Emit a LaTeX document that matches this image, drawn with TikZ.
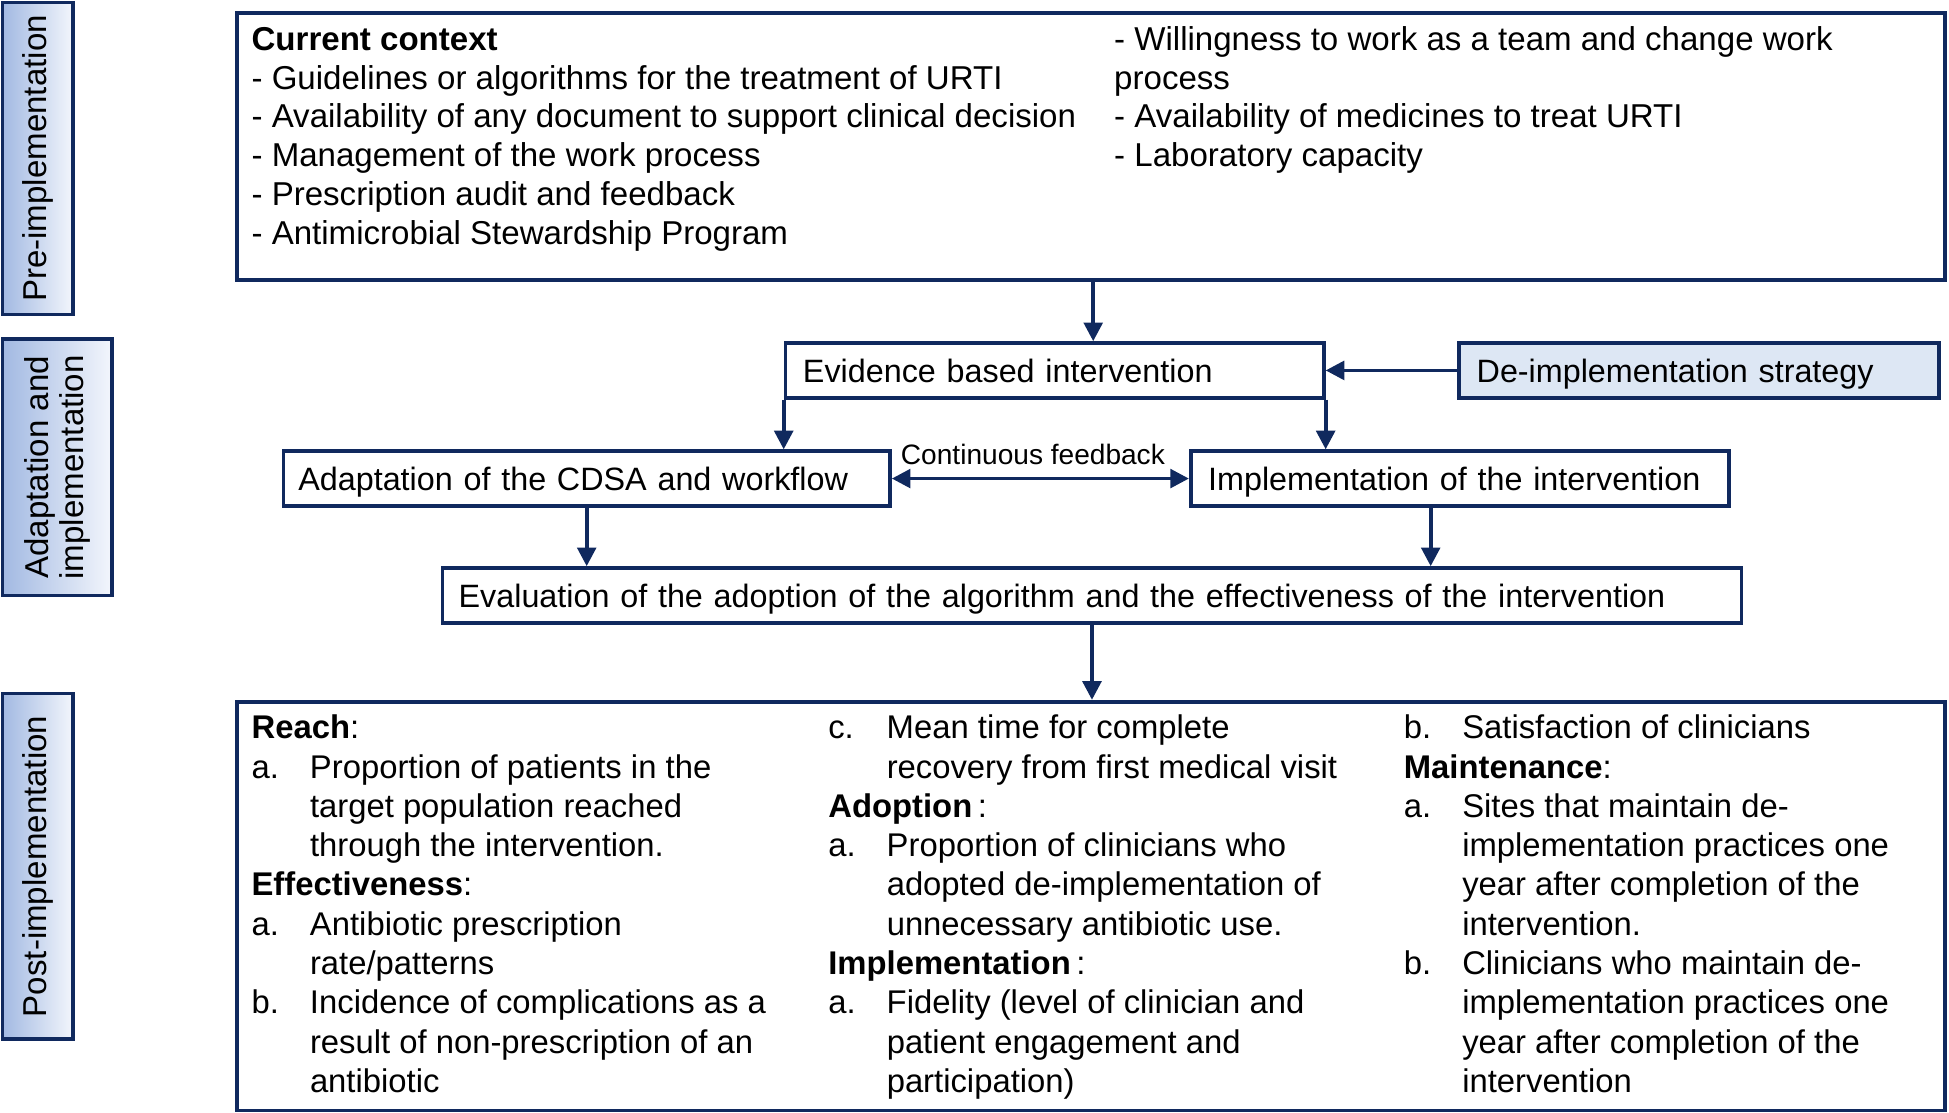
\documentclass[tikz,border=0pt]{standalone}
\usepackage{fontspec}
\setmainfont{Liberation Sans}
\usetikzlibrary{arrows.meta,calc}
\definecolor{navy}{RGB}{16,41,94}
\definecolor{lightfill}{RGB}{221,231,244}
\definecolor{gradtop}{RGB}{243,246,252}
\definecolor{gradbot}{RGB}{162,185,226}
\newcommand\itm[1]{\makebox[23.5pt][l]{#1}}
\begin{document}
\begin{tikzpicture}[x=0.5pt,y=-0.5pt,
 bigbox/.style={draw=navy, line width=1.5pt, inner sep=0pt, anchor=north west},
 onebox/.style={draw=navy, line width=1.5pt, minimum height=22pt, align=left,
   font=\fontsize{13.0}{15.8}\selectfont, inner ysep=0pt, text height=9.5pt, text depth=0pt},
 lab/.style={draw=navy, line width=1.5pt, rotate=90, align=center, inner sep=0pt,
   left color=gradbot, right color=gradtop, font=\fontsize{13.3}{14}\selectfont},
 txt/.style={inner sep=0pt, anchor=north west, align=left},
 arr/.style={draw=navy, line width=1.5pt, -{Triangle[length=7.5pt,width=7.5pt]}},
 darr/.style={draw=navy, line width=1.5pt, {Triangle[length=7.5pt,width=7.5pt]}-{Triangle[length=7.5pt,width=7.5pt]}},
]
\useasboundingbox (0,0) rectangle (1568,895.4);

% phase labels
\node[lab, minimum width=125.5pt, minimum height=28.5pt] (pre) at (30.5,127.5) {Pre-implementation};
\node[lab, minimum width=103pt, minimum height=44pt] (ada) at (46,376) {Adaptation and\\implementation};
\node[lab, minimum width=139pt, minimum height=28.5pt] (post) at (30.5,697) {Post-implementation};

% top box
\node[bigbox, minimum width=687pt, minimum height=107.5pt] (top) at (189,9) {};
\node[txt, font=\fontsize{13.3}{15.6}\selectfont] (ctxl) at (202,18.2) {\strut\textbf{Current context}\\
- Guidelines or algorithms for the treatment of URTI\\
- Availability of any document to support clinical decision\\
- Management of the work process\\
- Prescription audit and feedback\\
- Antimicrobial Stewardship Program\strut};
\node[txt, font=\fontsize{13.3}{15.6}\selectfont] (ctxr) at (896,18.2) {\strut- Willingness to work as a team and change work\\
process\\
- Availability of medicines to treat URTI\\
- Laboratory capacity\strut};

% middle boxes
\node[onebox, text width=202.5pt, inner xsep=7pt] (evi) at (848.5,298) {Evidence based intervention};
\node[onebox, text width=179pt, inner xsep=7pt, fill=lightfill] (dei) at (1367,298) {De-implementation strategy};
\node[onebox, text width=232pt, inner xsep=6pt] (adapt) at (472,385) {Adaptation of the CDSA and workflow};
\node[onebox, text width=202.5pt, inner xsep=7pt] (impl) at (1174.5,385) {Implementation of the intervention};
\node[onebox, text width=509.5pt, inner xsep=6.5pt] (eval) at (878.5,479) {Evaluation of the adoption of the algorithm and the effectiveness of the intervention};
\node[inner sep=0pt, anchor=base, font=\fontsize{11.3}{13}\selectfont] (fb) at (831,374) {Continuous feedback};

% bottom box
\node[bigbox, minimum width=687pt, minimum height=164.5pt] (res) at (189,563) {};
\node[txt, font=\fontsize{13.2}{15.8}\selectfont] (c1) at (202,571.9) {\strut\textbf{Reach}:\\
\itm{a.}Proportion of patients in the\\
\itm{}target population reached\\
\itm{}through the intervention.\\
\textbf{Effectiveness}:\\
\itm{a.}Antibiotic prescription\\
\itm{}rate/patterns\\
\itm{b.}Incidence of complications as a\\
\itm{}result of non-prescription of an\\
\itm{}antibiotic\strut};
\node[txt, font=\fontsize{13.2}{15.8}\selectfont] (c2) at (666,571.9) {\strut\itm{c.}Mean time for complete\\
\itm{}recovery from first medical visit\\
\textbf{Adoption}\,:\\
\itm{a.}Proportion of clinicians who\\
\itm{}adopted de-implementation of\\
\itm{}unnecessary antibiotic use.\\
\textbf{Implementation}\,:\\
\itm{a.}Fidelity (level of clinician and\\
\itm{}patient engagement and\\
\itm{}participation)\strut};
\node[txt, font=\fontsize{13.2}{15.8}\selectfont] (c3) at (1129,571.9) {\strut\itm{b.}Satisfaction of clinicians\\
\textbf{Maintenance}:\\
\itm{a.}Sites that maintain de-\\
\itm{}implementation practices one\\
\itm{}year after completion of the\\
\itm{}intervention.\\
\itm{b.}Clinicians who maintain de-\\
\itm{}implementation practices one\\
\itm{}year after completion of the\\
\itm{}intervention\strut};

% connectors
\draw[arr] ([xshift=1pt]top.south) -- ([xshift=1pt]top.south |- evi.north);
\draw[arr] (dei.west) -- (evi.east);
\draw[arr] (evi.south west) -- (evi.south west |- adapt.north);
\draw[arr] (evi.south east) -- (evi.south east |- impl.north);
\draw[darr] (adapt.east) -- (impl.west);
\draw[arr] (adapt.south) -- (adapt.south |- eval.north);
\draw[arr] ([xshift=-11.75pt]impl.south) -- ([xshift=-11.75pt]impl.south |- eval.north);
\draw[arr] (eval.south) -- (eval.south |- res.north);
\end{tikzpicture}
\end{document}
